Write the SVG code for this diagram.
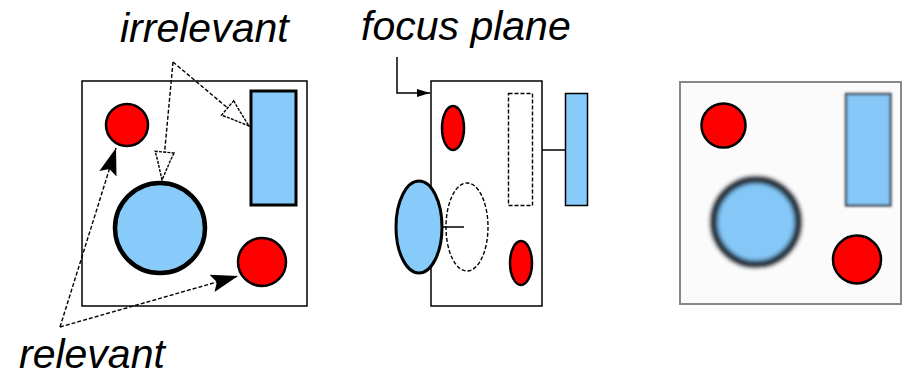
<svg xmlns="http://www.w3.org/2000/svg" width="905" height="379" viewBox="0 0 905 379">
  <style>
    .label { font-family: "Liberation Sans", Arial, sans-serif; font-style: italic; font-size: 41px; fill: #000; }
    .frame { fill: #fff; stroke: #000; stroke-width: 1.5; }
    .red { fill: #ff0000; stroke: #000; stroke-width: 2.5; }
    .blue { fill: #87cbfa; stroke: #000; }
    .dash { fill: none; stroke: #000; stroke-width: 1.4; stroke-dasharray: 4 2; }
    .thin { fill: none; stroke: #000; stroke-width: 1.5; }
  </style>
  <defs>
    <marker id="openHead" viewBox="0 0 30 22" refX="29" refY="11" markerWidth="30" markerHeight="22" markerUnits="userSpaceOnUse" orient="auto">
      <path d="M1,1.5 L9,4.5 L29,11 L9,17.5 L1,20.5 Z" fill="#fff" stroke="#000" stroke-width="1.4" stroke-dasharray="3 1.2"/>
    </marker>
    <marker id="solidHead" viewBox="0 0 28 20" refX="27" refY="10" markerWidth="28" markerHeight="20" markerUnits="userSpaceOnUse" orient="auto">
      <path d="M0,1 L27,10 L0,19 L5,10 Z" fill="#000"/>
    </marker>
    <marker id="smallHead" viewBox="0 0 14 10" refX="13" refY="5" markerWidth="14" markerHeight="10" markerUnits="userSpaceOnUse" orient="auto">
      <path d="M0,1 L13,5 L0,9 Z" fill="#000"/>
    </marker>
    <filter id="softBlur" x="-30%" y="-30%" width="160%" height="160%">
      <feGaussianBlur stdDeviation="2.3"/>
    </filter>
    <filter id="lightBlur" x="-20%" y="-20%" width="140%" height="140%">
      <feGaussianBlur stdDeviation="0.8"/>
    </filter>
  </defs>

  <!-- left scene: objects at different depths -->
  <g id="scene-left">
    <rect class="frame" x="82" y="81" width="225" height="225"/>
    <circle id="red-top" class="red" cx="127" cy="125" r="21"/>
    <rect id="blue-rect" class="blue" x="251" y="91" width="45" height="114" stroke-width="3"/>
    <circle id="blue-circle" class="blue" cx="160" cy="228" r="45" stroke-width="4.5"/>
    <circle id="red-bottom" class="red" cx="262" cy="262" r="24"/>
  </g>

  <!-- connectors -->
  <g id="connectors">
    <path class="dash" d="M173,62 L162,180" marker-end="url(#openHead)"/>
    <path class="dash" d="M173,62 L249,126" marker-end="url(#openHead)"/>
    <path class="dash" d="M60,327 L116,148" marker-end="url(#solidHead)"/>
    <path class="dash" d="M60,327 L238,276" marker-end="url(#solidHead)"/>
    <path class="thin" d="M397,57 L397,93 L430,93" marker-end="url(#smallHead)"/>
  </g>

  <g id="label-irrelevant"><text class="label" x="120" y="42">irrelevant</text></g>
  <g id="label-relevant"><text class="label" x="19" y="368">relevant</text></g>
  <g id="label-focus"><text class="label" x="361" y="40">focus plane</text></g>

  <!-- side view: focus plane and object positions -->
  <g id="side-view">
    <rect class="frame" x="431" y="81" width="111" height="225"/>
    <ellipse class="red" cx="453" cy="128" rx="11" ry="22" stroke-width="1.5"/>
    <rect class="dash" x="508.5" y="93.5" width="24" height="112"/>
    <line class="thin" x1="542" y1="150" x2="577" y2="150"/>
    <rect class="blue" x="565.5" y="93.5" width="22" height="112" stroke-width="1.5"/>
    <ellipse class="dash" cx="467" cy="227" rx="21" ry="44"/>
    <ellipse class="blue" cx="419" cy="227" rx="23" ry="46" stroke-width="3"/>
    <line class="thin" x1="442" y1="227" x2="464" y2="227"/>
    <ellipse class="red" cx="521" cy="263" rx="11" ry="22" stroke-width="1.5"/>
  </g>

  <!-- rendered result: out-of-focus object blurred -->
  <g id="scene-right">
    <rect x="680" y="82" width="221" height="222" fill="#fbfbfb" stroke="#888" stroke-width="2"/>
    <circle class="red" cx="723.5" cy="125.5" r="22" stroke-width="2"/>
    <rect x="846" y="94" width="44.5" height="111.5" fill="#85c8f8" stroke="#4a5560" stroke-width="2.5" filter="url(#lightBlur)"/>
    <circle cx="756" cy="222" r="42" fill="#85c8f8" stroke="#1a242c" stroke-width="7" filter="url(#softBlur)"/>
    <circle class="red" cx="857" cy="259.5" r="24" stroke-width="2"/>
  </g>
</svg>
